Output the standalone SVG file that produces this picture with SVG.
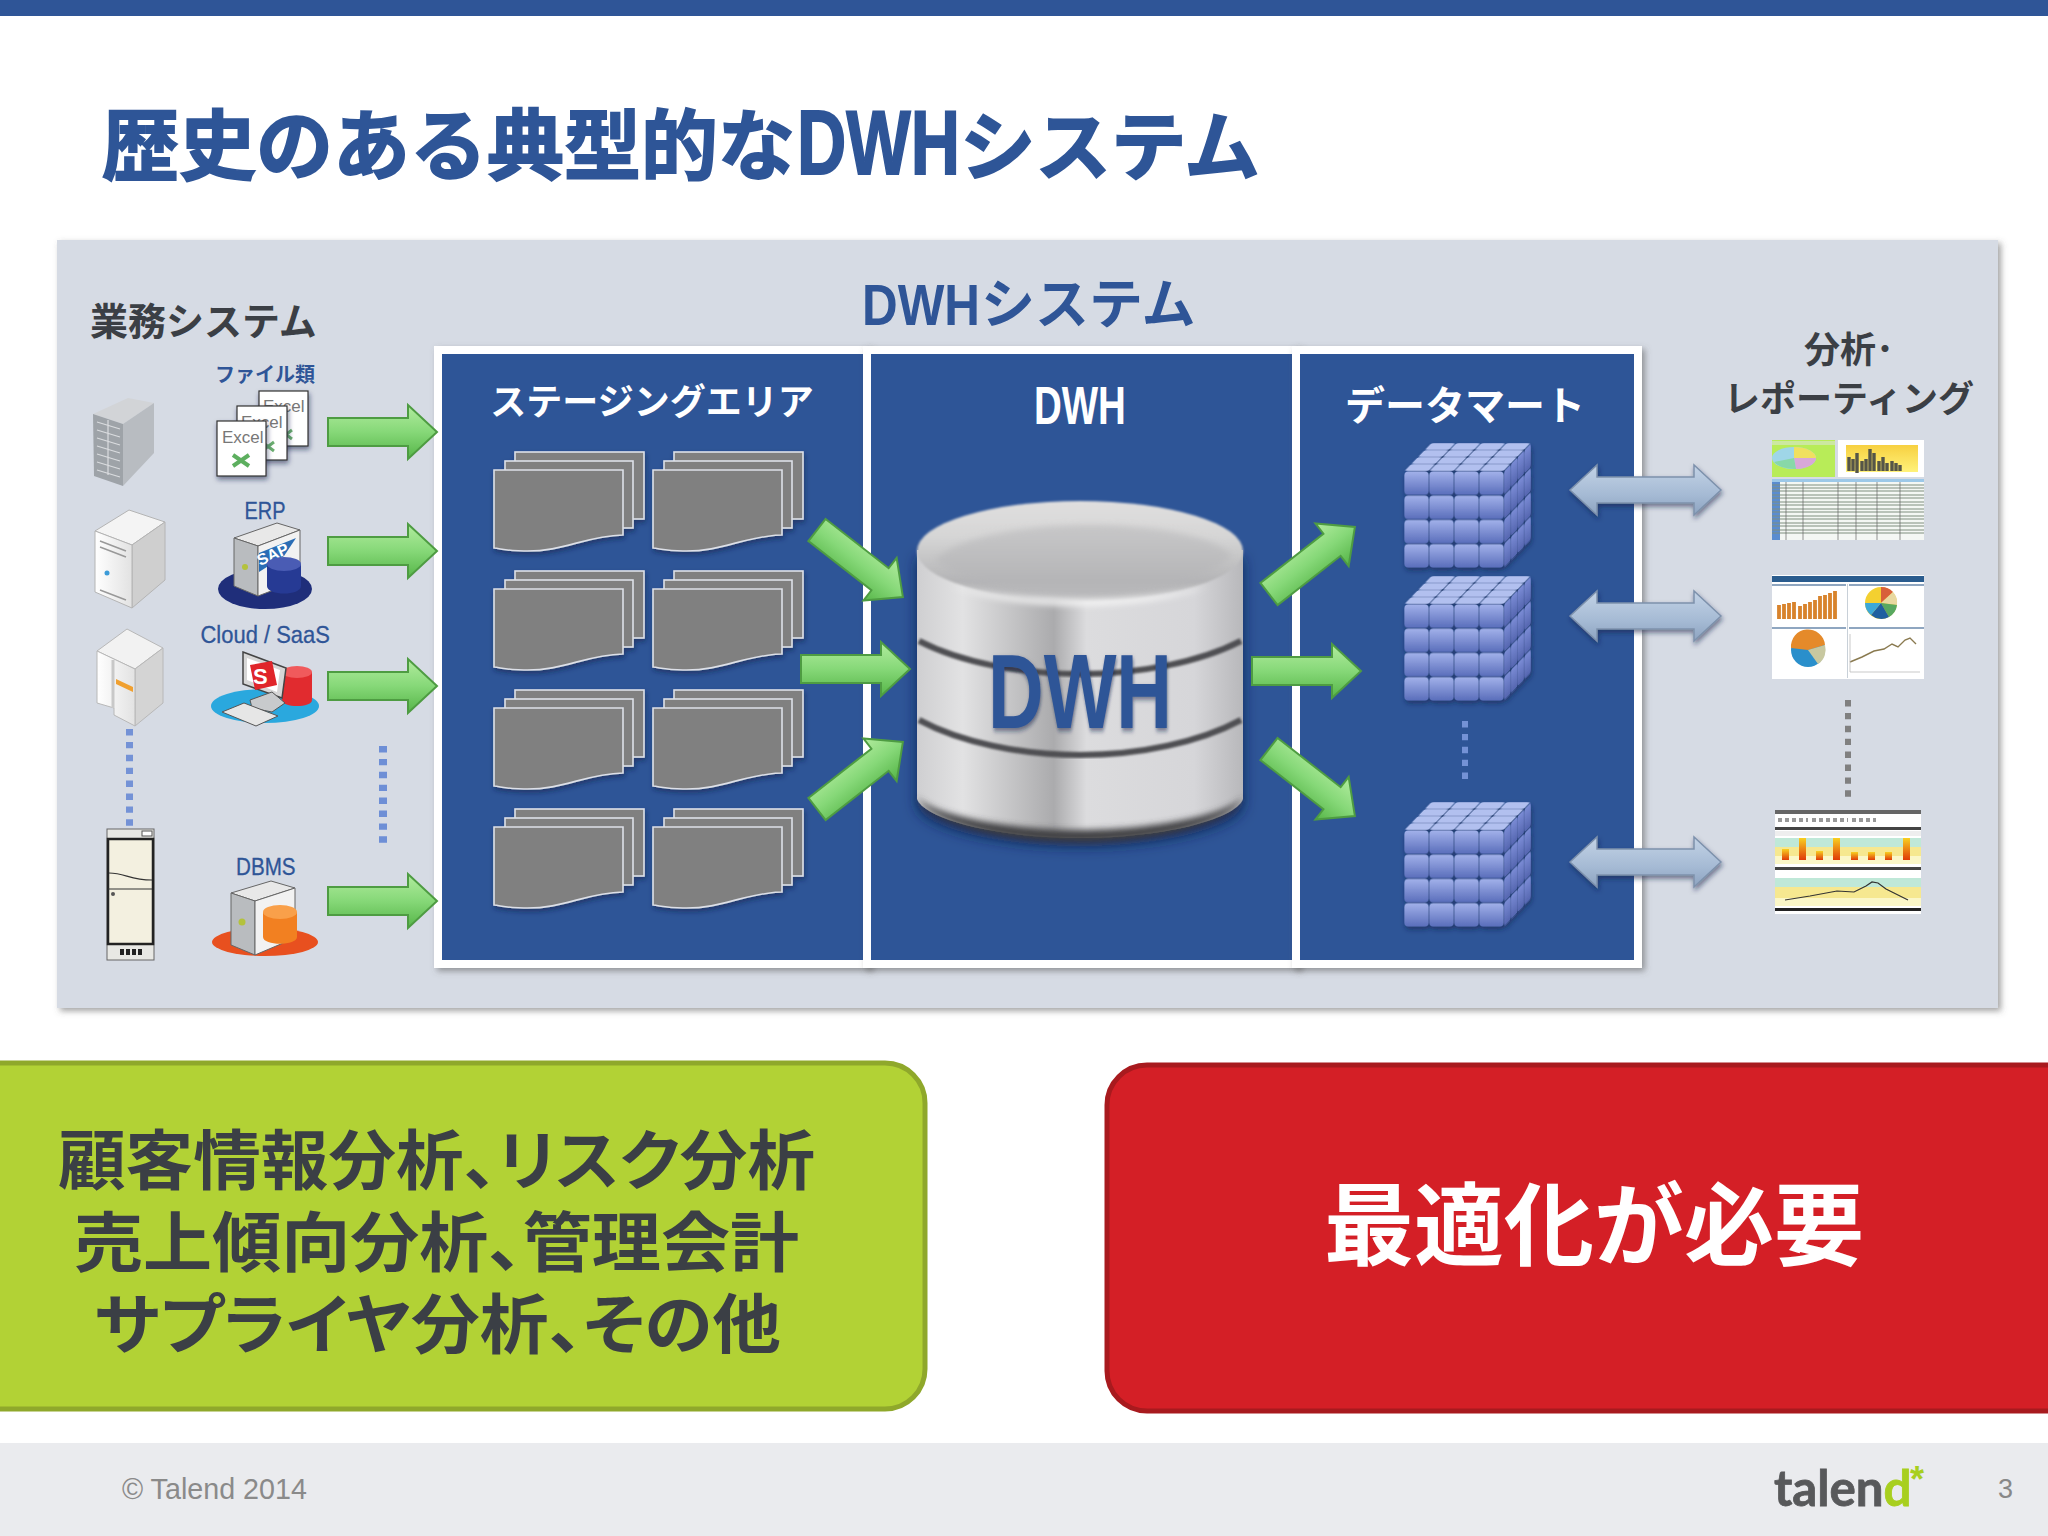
<svg xmlns="http://www.w3.org/2000/svg" width="2048" height="1536" viewBox="0 0 2048 1536">
<style>
text{font-family:"Noto Sans CJK JP","Liberation Sans",sans-serif;font-weight:700}
.lat{font-family:"Liberation Sans","Noto Sans CJK JP",sans-serif}
.blue{fill:#2F5597}.white{fill:#fff}.dark{fill:#3B3F45}
.ttl{stroke:#2F5597;stroke-width:1.8;fill:#2F5597}
.lbl{font-weight:400;stroke:#2F5597;stroke-width:.3;fill:#2F5597}
.dot{fill:none;stroke-dasharray:6.4 6.5}
.panel{fill:#2F5597;stroke:#fff;stroke-width:8}
.doc{fill:#808080;stroke:#DDE0E8;stroke-width:1.6}
.xl{fill:#fff;stroke:#333;stroke-width:1.2}
.xt{font-family:"Liberation Sans",sans-serif;font-weight:400;font-size:17px;fill:#777}
.palt{font-feature-settings:"palt"}
</style>
<defs>
<filter id="sh" x="-5%" y="-5%" width="110%" height="110%"><feDropShadow dx="3" dy="3" stdDeviation="3" flood-color="#555" flood-opacity=".55"/></filter>
<filter id="sh2" x="-15%" y="-15%" width="130%" height="130%"><feDropShadow dx="1" dy="3" stdDeviation="2.5" flood-color="#10234a" flood-opacity=".55"/></filter>
<filter id="sh3" x="-10%" y="-10%" width="120%" height="125%"><feDropShadow dx="0" dy="8" stdDeviation="7" flood-color="#10234a" flood-opacity=".8"/></filter>
<filter id="b1"><feGaussianBlur stdDeviation=".8"/></filter>
<filter id="b0"><feGaussianBlur stdDeviation=".4"/></filter>
<filter id="b3" x="-10%" y="-30%" width="120%" height="160%"><feGaussianBlur stdDeviation="3"/></filter>
<linearGradient id="ga" x1="0" y1="0" x2="0" y2="1"><stop offset="0" stop-color="#B2EC9E"/><stop offset=".5" stop-color="#86D878"/><stop offset="1" stop-color="#56B548"/></linearGradient>
<linearGradient id="gb" x1="0" y1="0" x2="0" y2="1"><stop offset="0" stop-color="#C3D3E6"/><stop offset=".6" stop-color="#A5BAD4"/><stop offset="1" stop-color="#8DA3C0"/></linearGradient>
<linearGradient id="cy" x1="0" y1="0" x2="1" y2="0"><stop offset="0" stop-color="#CFCFD1"/><stop offset=".14" stop-color="#E2E2E3"/><stop offset=".42" stop-color="#ABABAD"/><stop offset=".52" stop-color="#DCDCDE"/><stop offset=".85" stop-color="#D6D6D9"/><stop offset="1" stop-color="#B8B8BB"/></linearGradient>
<linearGradient id="cyt" x1="0" y1="0" x2="0" y2="1"><stop offset="0" stop-color="#E0DFDF"/><stop offset=".35" stop-color="#D6D6D6"/><stop offset=".8" stop-color="#B4B4B6"/><stop offset="1" stop-color="#C0C0C2"/></linearGradient>
<linearGradient id="tf" x1="0" y1="0" x2="0" y2="1"><stop offset="0" stop-color="#A2B1EA"/><stop offset="1" stop-color="#5A6EBB"/></linearGradient>
<linearGradient id="tsd" x1="0" y1="0" x2="0" y2="1"><stop offset="0" stop-color="#7A8BD4"/><stop offset="1" stop-color="#5566B0"/></linearGradient>
<linearGradient id="g2" x1="0" y1="0" x2="1" y2="0"><stop offset="0" stop-color="#fff"/><stop offset="1" stop-color="#E2E2E2"/></linearGradient>
<linearGradient id="yl" x1="0" y1="0" x2="0" y2="1"><stop offset="0" stop-color="#F7D040"/><stop offset="1" stop-color="#FFF27A"/></linearGradient>
<linearGradient id="br" x1="0" y1="0" x2="0" y2="1"><stop offset="0" stop-color="#F8D020"/><stop offset="1" stop-color="#E03A08"/></linearGradient>
<pattern id="cf" width="25" height="24.25" patternUnits="userSpaceOnUse"><rect x=".4" y=".4" width="24.2" height="23.4" rx="4" fill="url(#tf)"/></pattern>
<pattern id="ct" width="25" height="24.25" patternUnits="userSpaceOnUse"><rect x=".6" y=".6" width="23.8" height="23" rx="3" fill="#B2C0EF"/></pattern>
<pattern id="cs" width="24.25" height="24.25" patternUnits="userSpaceOnUse"><rect x=".6" y=".6" width="23" height="23" rx="4" fill="url(#tsd)"/></pattern>
<polygon id="arr" points="0,-14 80,-14 80,-27 109,0 80,27 80,14 0,14" fill="url(#ga)" stroke="#4E9C42" stroke-width="2"/>
<polygon id="dbl" points="0,0 27,-25 27,-13 124,-13 124,-25 151,0 124,25 124,13 27,13 27,25" fill="url(#gb)" stroke="#7D91AC" stroke-width="1.5"/>
<g id="stack" filter="url(#sh2)"><rect class="doc" x="21" y="0" width="129" height="67"/><rect class="doc" x="11" y="9" width="128" height="67"/><path class="doc" d="M0,18H129V83C90,84 70,100 30,99C15,99 8,97 0,96Z"/></g>
<g id="cube" filter="url(#sh2)">
<rect width="100" height="97" fill="url(#ct)" transform="matrix(1,0,-.2784,.2887,27,0)"/>
<rect width="97" height="97" fill="url(#cs)" transform="matrix(.2784,-.2887,0,1,100,28)"/>
<rect width="100" height="97" fill="url(#cf)" transform="translate(0,28)"/>
</g>
</defs>
<rect width="2048" height="1536" fill="#fff"/>
<rect id="topbar" width="2048" height="16" fill="#2F5597"/>
<g id="title" filter="url(#b0)">
<text class="ttl" x="102" y="174" font-size="77">歴史のある典型的な</text>
<text class="ttl lat" font-size="90" transform="translate(797,174) scale(.758,1)">DWH</text>
<text class="ttl" x="960" y="174" font-size="75.5">システム</text>
</g>
<rect id="bg-panel" x="57" y="240" width="1941" height="768" fill="#D6DBE4" filter="url(#sh)"/>
<g id="dwh-system-label"><text class="blue lat" font-size="58" transform="translate(862,325) scale(.852,1)">DWH</text><text class="blue" x="981" y="324" font-size="54">システム</text></g>
<text id="biz-label" class="dark" x="90" y="335" font-size="38">業務システム</text>
<g id="report-label" class="dark" text-anchor="middle"><text x="1849" y="363" font-size="36" font-weight="500">分析･</text><text x="1849" y="412" font-size="36" font-weight="500">レポーティング</text></g>
<g id="staging"><rect class="panel" x="438" y="350" width="429" height="614" filter="url(#sh)"/>
<text class="white" x="652" y="415" font-size="36" text-anchor="middle">ステージングエリア</text>
<use href="#stack" x="494" y="452"/><use href="#stack" x="653" y="452"/><use href="#stack" x="494" y="571"/><use href="#stack" x="653" y="571"/><use href="#stack" x="494" y="690"/><use href="#stack" x="653" y="690"/><use href="#stack" x="494" y="809"/><use href="#stack" x="653" y="809"/></g>
<g id="dwh-area"><rect class="panel" x="867" y="350" width="429" height="614" filter="url(#sh)"/>
<text class="white lat" font-size="54" transform="translate(1034,424) scale(.713,1)">DWH</text></g>
<g id="datamart"><rect class="panel" x="1296" y="350" width="342" height="614" filter="url(#sh)"/>
<text class="white" x="1465" y="420" font-size="40" text-anchor="middle">データマート</text>
<use href="#cube" x="1404" y="443"/><use href="#cube" x="1404" y="576"/><use href="#cube" x="1404" y="802"/>
<line class="dot" x1="1465" y1="721" x2="1465" y2="782" stroke="#7492D6" stroke-width="6"/></g>
<g id="dwh-cylinder">
<path d="M917,550V799C925,820 1000,838 1080,838C1160,838 1235,820 1243,799V550Z" fill="url(#cy)" filter="url(#sh3)"/>
<path d="M917,796C925,822 1000,842 1080,842C1160,842 1235,822 1243,796C1235,812 1160,830 1080,830C1000,830 925,812 917,796Z" fill="#3F3F42" filter="url(#b3)"/>
<ellipse cx="1080" cy="551" rx="163" ry="50" fill="url(#cyt)" filter="url(#b1)"/>
<path d="M935,560C975,590 1040,598 1090,598C1140,598 1200,585 1232,556C1215,535 1150,525 1090,525C1030,525 960,535 935,560Z" fill="#B6B6B8" opacity=".55" filter="url(#b3)"/>
<path d="M950,586C1020,604 1140,604 1210,586C1140,612 1020,612 950,586Z" fill="#F6F6F6" filter="url(#b3)"/>
<path d="M919,641C960,662 1020,674 1080,674C1140,674 1200,662 1241,641" fill="none" stroke="#505053" stroke-width="6" filter="url(#b1)"/>
<path d="M919,720C960,742 1020,755 1080,755C1140,755 1200,742 1241,720" fill="none" stroke="#505053" stroke-width="6" filter="url(#b1)"/>
<path d="M1030,762H1130" stroke="#F0F0F0" stroke-width="4" filter="url(#b3)"/>
<text class="blue lat" font-size="106" transform="translate(988,728) scale(.727,1)" filter="url(#sh2)">DWH</text>
</g>
<g id="server1">
<polygon points="93,414 128,398 154,403 123,424" fill="#D2D4D7"/><polygon points="123,424 154,403 154,453 123,486" fill="#B8BCC1"/><polygon points="93,414 123,424 123,486 94,476" fill="#9EA3A8"/>
<g stroke="#DADCDF" stroke-width="1.2" fill="none"><path d="M97,422L120,429M97,430L120,437M97,438L120,445M97,446L120,453M97,454L120,461M97,462L120,469M97,470L120,477M108,420V475"/></g>
</g>
<g id="server2">
<polygon points="95,531 129,510 165,522 132,545" fill="#F4F4F4" stroke="#B4B4B4"/><polygon points="132,545 165,522 165,580 132,608" fill="#CFCFCF" stroke="#B4B4B4"/><polygon points="95,531 132,545 132,608 95,592" fill="url(#g2)" stroke="#B4B4B4"/>
<path d="M100,541L126,551M100,547L126,557M100,590L126,600" stroke="#999" stroke-width="1.5"/><circle cx="107" cy="573" r="2.5" fill="#3C9BD8"/>
</g>
<g id="server3">
<polygon points="97,651 127,629 163,648 135,669" fill="#F2F2F2" stroke="#B8B8B8"/><polygon points="135,669 163,648 163,703 135,726" fill="#D4D4D4" stroke="#B8B8B8"/><polygon points="97,651 135,669 135,726 114,715 114,708 97,703" fill="url(#g2)" stroke="#B8B8B8"/>
<path d="M113,660V708" stroke="#C8C8C8" stroke-width="3"/><polygon points="116,679 133,687 133,692 116,684" fill="#F0A030"/>
</g>
<g id="server4">
<rect x="107" y="829" width="47" height="131" fill="#E8E8E4" stroke="#666"/><rect x="108" y="839" width="45" height="105" fill="#F3F0E0" stroke="#222" stroke-width="2.5"/><path d="M109,873C125,873 130,880 152,880M108,889H152" stroke="#333" stroke-width="1.2" fill="none"/><rect x="142" y="831" width="10" height="5" fill="#fff" stroke="#555"/><circle cx="113" cy="894" r="2" fill="#555"/><path d="M120,952h4m2,0h4m2,0h4m2,0h4" stroke="#222" stroke-width="6"/>
</g>
<line class="dot" x1="129.5" y1="729" x2="129.5" y2="826" stroke="#7492D6" stroke-width="7"/>
<line class="dot" x1="383" y1="746" x2="383" y2="845" stroke="#6E8FD6" stroke-width="8"/>
<g id="files">
<text class="blue" x="265" y="382" font-size="20" text-anchor="middle">ファイル類</text>
<rect class="xl" x="259" y="391" width="49" height="55" filter="url(#sh2)"/><text class="xt" x="263" y="412">Excel</text><path d="M280,430l12,9m0,-9l-12,9" stroke="#6BAE6F" stroke-width="3"/>
<rect class="xl" x="237" y="406" width="50" height="54" filter="url(#sh2)"/><text class="xt" x="241" y="428">Excel</text><path d="M262,442l12,9m0,-9l-12,9" stroke="#6BAE6F" stroke-width="3"/>
<rect class="xl" x="217" y="421" width="49" height="55" filter="url(#sh2)"/><text class="xt" x="222" y="443">Excel</text><path d="M233,455l16,11m0,-11l-16,11" stroke="#5DAF5F" stroke-width="4"/>
</g>
<g id="erp">
<text class="lbl lat" font-size="24" transform="translate(244.500,519) scale(.83,1)">ERP</text>
<ellipse cx="265" cy="589" rx="47" ry="20" fill="#1F2E7A"/>
<polygon points="234,538 277,523 300,530 258,546" fill="#E8E8E8" stroke="#666"/><polygon points="234,538 258,546 258,596 234,586" fill="#B9BCBF" stroke="#666"/><polygon points="258,546 300,530 300,580 258,596" fill="#F2F2F2" stroke="#666"/>
<polygon points="259,553 296,538 284,556 259,572" fill="#2A6DB5"/><text x="260" y="566" font-size="16" class="white lat" transform="rotate(-24 260 566)">SAP</text>
<circle cx="245" cy="567" r="3" fill="#B4C23C"/>
<path d="M267,564V586C267,596 301,596 301,586V564Z" fill="#263A94"/><ellipse cx="284" cy="564" rx="17" ry="7" fill="#4A5CB4"/>
</g>
<g id="cloud">
<text class="lbl lat" font-size="24" transform="translate(200.500,643) scale(.915,1)">Cloud / SaaS</text>
<ellipse cx="265" cy="706" rx="54" ry="17" fill="#2AA8DE"/>
<path d="M282,672V700C282,708 312,708 312,700V672Z" fill="#E12B2F"/><ellipse cx="297" cy="672" rx="15" ry="6" fill="#F05A5C"/>
<polygon points="243,652 286,668 282,698 243,684" fill="#D6D6D6" stroke="#444" stroke-width="1.5"/><polygon points="247,658 280,670 277,692 247,680" fill="#fff"/>
<polygon points="250,665 272,661 277,685 255,690" fill="#E0252A"/><text x="253" y="684" font-size="22" class="white lat">S</text>
<path d="M250,700L272,692L285,703L272,712L252,708Z" fill="#C8CACC" stroke="#555"/>
<path d="M222,712L244,703L278,716L256,726Z" fill="#E6E6E6" stroke="#555"/>
</g>
<g id="dbms">
<text class="lbl lat" font-size="24" transform="translate(236,875) scale(.86,1)">DBMS</text>
<ellipse cx="265" cy="942" rx="53" ry="14" fill="#E8501F"/>
<polygon points="231,893 271,881 295,888 255,901" fill="#E8E8E8" stroke="#666"/><polygon points="231,893 255,901 255,955 231,945" fill="#B9BCBF" stroke="#666"/><polygon points="255,901 295,888 295,938 255,955" fill="#F2F2F2" stroke="#666"/>
<circle cx="242" cy="922" r="3.5" fill="#B4C23C"/>
<path d="M263,912V937C263,946 297,946 297,937V912Z" fill="#F28021"/><ellipse cx="280" cy="912" rx="17" ry="7" fill="#F9A04A"/>
</g>
<g id="report1">
<rect x="1772" y="440" width="63" height="37" fill="#B8EC58"/><rect x="1838" y="440" width="86" height="37" fill="#fff"/><rect x="1846" y="445" width="72" height="27" fill="url(#yl)"/>
<rect x="1772" y="441" width="63" height="4" fill="#CCE8A0"/>
<ellipse cx="1794" cy="458" rx="22" ry="11" fill="#9FD6E8"/><path d="M1794,458L1794,447A22,11 0 0 1 1816,458Z" fill="#F0E060"/><path d="M1794,458L1816,458A22,11 0 0 1 1796,469Z" fill="#D8A8D8"/><path d="M1794,458L1796,469A22,11 0 0 1 1774,462Z" fill="#88D8A8"/>
<path d="M1849,471v-14m4,14v-12m4,14v-20m5,18v-10m4,10v-12m4,12v-22m4,22v-18m5,18v-10m4,10v-14m4,14v-8m5,8v-10m4,10v-8m4,8v-6" stroke="#555548" stroke-width="3.4"/>
<rect x="1772" y="479" width="152" height="61" fill="#F4F7F4"/><rect x="1772" y="479" width="152" height="3" fill="#9CC8E8"/><rect x="1772" y="482" width="8" height="58" fill="#5A8CD0"/>
<path d="M1772,485H1924M1772,488H1924M1772,491H1924M1772,495H1924M1772,498H1924M1772,502H1924M1772,505H1924M1772,509H1924M1772,512H1924M1772,516H1924M1772,519H1924M1772,523H1924M1772,526H1924M1772,530H1924M1772,533H1924" stroke="#7E8E7E" stroke-width="1"/>
<path d="M1786,482V540M1803,482V540M1838,482V540M1856,482V540M1877,482V540M1900,482V540" stroke="#666" stroke-width=".7"/>
</g>
<g id="report2">
<rect x="1772" y="575" width="152" height="104" fill="#fff"/><rect x="1772" y="576" width="152" height="6" fill="#2A5C8E"/><rect x="1772" y="584" width="74" height="2" fill="#8FA6C0"/><rect x="1849" y="584" width="75" height="2" fill="#8FA6C0"/><rect x="1772" y="627" width="74" height="2" fill="#8FA6C0"/><rect x="1849" y="627" width="75" height="2" fill="#8FA6C0"/><path d="M1847.5,584V678" stroke="#C8D0D8"/>
<path d="M1779,619v-14m5,14v-15m5,15v-16m5,16v-17m6,17v-13m5,13v-15m5,15v-17m5,17v-19m5,19v-23m5,23v-24m5,24v-26m5,26v-28" stroke="#D8832C" stroke-width="3.8"/>
<circle cx="1881" cy="603" r="16" fill="#F4D030"/><path d="M1881,603V587A16,16 0 0 1 1893,592Z" fill="#D8603A"/><path d="M1881,603L1893,592A16,16 0 0 1 1897,605Z" fill="#E8D8A0"/><path d="M1881,603L1897,605A16,16 0 0 1 1889,617Z" fill="#58A860"/><path d="M1881,603L1889,617A16,16 0 0 1 1871,615Z" fill="#1F5FA0"/><path d="M1881,603L1871,615A16,16 0 0 1 1865,603Z" fill="#3CA8D8"/>
<circle cx="1808" cy="650" r="17" fill="#2A8FCB"/><path d="M1808,650L1791,648A17,17 0 0 1 1825,645Z" fill="#E58A2A"/><path d="M1808,650L1825,645A17,17 0 0 1 1818,664Z" fill="#C8C8A0"/>
<polyline points="1850,662 1862,657 1874,651 1884,649 1892,644 1898,647 1905,640 1910,638 1916,644" fill="none" stroke="#8A7A50" stroke-width="1.4"/>
<path d="M1850,634V672H1920" fill="none" stroke="#BBB" stroke-width=".8"/>
</g>
<line class="dot" x1="1848" y1="700" x2="1848" y2="800" stroke="#808080" stroke-width="6"/>
<g id="report3">
<rect x="1775" y="810" width="146" height="104" fill="#fff"/><rect x="1775" y="810" width="146" height="4" fill="#666"/><path d="M1778,820h30m4,0h36m4,0h24" stroke="#999" stroke-width="4" stroke-dasharray="4 3"/>
<rect x="1775" y="827" width="146" height="3" fill="#444"/><rect x="1775" y="831" width="146" height="5" fill="#EEE"/>
<rect x="1775" y="838" width="146" height="9" fill="#BFE8D8"/><rect x="1775" y="847" width="146" height="9" fill="#F6E890"/><rect x="1775" y="856" width="146" height="8" fill="#FBF7C8"/>
<g fill="url(#br)"><rect x="1782" y="849" width="7" height="11"/><rect x="1799" y="838" width="7" height="22"/><rect x="1816" y="851" width="7" height="9"/><rect x="1833" y="838" width="7" height="22"/><rect x="1851" y="852" width="7" height="8"/><rect x="1868" y="852" width="7" height="8"/><rect x="1885" y="852" width="7" height="8"/><rect x="1903" y="838" width="7" height="22"/></g>
<rect x="1775" y="867" width="146" height="3" fill="#444"/>
<rect x="1775" y="878" width="146" height="9" fill="#BFE8D8"/><rect x="1775" y="887" width="146" height="11" fill="#F6E890"/><rect x="1775" y="898" width="146" height="8" fill="#FBF7C8"/>
<polyline points="1785,900 1810,896 1837,891 1854,892 1866,886 1872,882 1878,883 1886,889 1900,896 1908,900" fill="none" stroke="#333" stroke-width="1.2"/>
<rect x="1775" y="908" width="146" height="3" fill="#222"/>
</g>
<g id="connectors">
<use href="#arr" transform="translate(328,432)"/><use href="#arr" transform="translate(328,551)"/><use href="#arr" transform="translate(328,686)"/><use href="#arr" transform="translate(328,901)"/>
<use href="#arr" transform="translate(817,530) rotate(38)"/><use href="#arr" transform="translate(801,669)"/><use href="#arr" transform="translate(817,809) rotate(-38)"/>
<use href="#arr" transform="translate(1269,594) rotate(-38)"/><use href="#arr" transform="translate(1252,671)"/><use href="#arr" transform="translate(1269,749) rotate(38)"/>
<use href="#dbl" transform="translate(1570,490)" filter="url(#sh2)"/><use href="#dbl" transform="translate(1570,616)" filter="url(#sh2)"/><use href="#dbl" transform="translate(1570,862)" filter="url(#sh2)"/>
</g>
<g id="green-box"><rect x="-40" y="1063" width="965" height="346" rx="40" fill="#B2D235" stroke="#8FA82B" stroke-width="5"/>
<g class="dark palt" font-size="65"><text x="58" y="1184" textLength="757" lengthAdjust="spacingAndGlyphs">顧客情報分析、リスク分析</text><text x="74" y="1266" textLength="725" lengthAdjust="spacingAndGlyphs">売上傾向分析、管理会計</text><text x="94" y="1348" textLength="687" lengthAdjust="spacingAndGlyphs">サプライヤ分析、その他</text></g></g>
<g id="red-box"><rect x="1107" y="1065" width="985" height="346" rx="40" fill="#D41F26" stroke="#A81A1E" stroke-width="5"/>
<text class="white" x="1594" y="1258" font-size="90" text-anchor="middle">最適化が必要</text></g>
<g id="footer"><rect y="1443" width="2048" height="93" fill="#EAEBEE"/>
<text class="lat" font-size="28.700" style="font-weight:400" fill="#8A8A8A" x="122" y="1499">© Talend 2014</text>
<text font-size="50" style="font-family:Lato,'Open Sans',sans-serif;font-weight:700" fill="#58595B" stroke="#58595B" stroke-width=".8" transform="translate(1774,1506) scale(.985,1)">talen<tspan fill="#A8CF1F" stroke="#A8CF1F">d</tspan></text><text x="1910" y="1492" font-size="36" fill="#A8CF1F" class="lat">*</text>
<text class="lat" x="1998" y="1498" font-size="27" style="font-weight:400" fill="#888">3</text></g>
</svg>
